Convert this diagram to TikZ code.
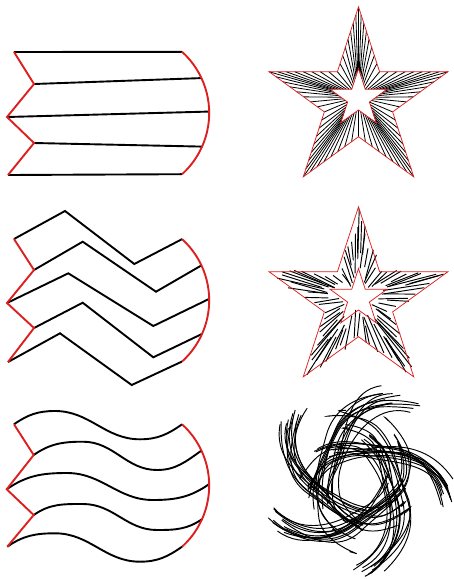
\documentclass[tikz,border=0pt]{standalone}
\usetikzlibrary{calc}
\definecolor{edgered}{RGB}{220,32,32}
\begin{document}
\begin{tikzpicture}[x=1pt,y=1pt,
  stripe/.style={black,line width=1.9pt,line join=miter},
  redge/.style={edgered,line width=1.9pt,line join=miter},
  hatch/.style={black,line width=0.8pt},
  outline/.style={edgered,line width=0.75pt,line join=miter},
  swirl/.style={black,line width=0.95pt}]
\useasboundingbox (0,0) rectangle (454,-579);
\pgfmathsetseed{4242}
% centres of the right-hand arcs of the flags
\coordinate (K1) at (126.6,-113);
\coordinate (K2) at (126.6,-300.3);
\coordinate (K3) at (126.6,-485.5);
\foreach \n/\th in {1/47.8,2/25,3/1,4/-24,5/-47.8}{
  \coordinate (b\n) at ($(K1)+(\th:82.6)$);
  \coordinate (d\n) at ($(K2)+(\th:82.6)$);
  \coordinate (f\n) at ($(K3)+(\th:82.6)$);
}
% ---------------- Flag 1 (straight stripes)
\coordinate (a1) at (14,-52);
\coordinate (a2) at (34,-84);
\coordinate (a3) at (7,-117);
\coordinate (a4) at (34,-143);
\coordinate (a5) at (8,-175);
\foreach \n in {1,...,5}{\draw[stripe] (a\n) -- (b\n);}
\draw[redge] (a1) -- (a2) -- (a3) -- (a4) -- (a5);
\draw[redge] (b1) arc[start angle=47.8,end angle=-47.8,radius=82.6];
% ---------------- Flag 2 (zigzag stripes)
\coordinate (c1) at (14,-239);
\coordinate (c2) at (34,-270);
\coordinate (c3) at (7,-303);
\coordinate (c4) at (34,-328);
\coordinate (c5) at (8,-362);
\coordinate (p1) at (65,-211);
\coordinate (p2) at (82.7,-241.7);
\coordinate (p3) at (68.3,-273.3);
\coordinate (p4) at (82.7,-302.7);
\coordinate (p5) at (60,-333.3);
\coordinate (q1) at (134.3,-264);
\coordinate (q2) at (156,-291.7);
\coordinate (q3) at (153.3,-326);
\coordinate (q4) at (153.3,-357.3);
\coordinate (q5) at (131.7,-385);
\foreach \n in {1,...,5}{\draw[stripe] (c\n) -- (p\n) -- (q\n) -- (d\n);}
\draw[redge] (c1) -- (c2) -- (c3) -- (c4) -- (c5);
\draw[redge] (d1) arc[start angle=47.8,end angle=-47.8,radius=82.6];
% ---------------- Flag 3 (wavy stripes)
\coordinate (e1) at (14,-424.3);
\coordinate (e2) at (33.7,-455);
\coordinate (e3) at (6.7,-489.3);
\coordinate (e4) at (33.7,-515);
\coordinate (e5) at (7.3,-546.7);
\coordinate (g1) at (55,-411);
\coordinate (g2) at (83,-441.7);
\coordinate (g3) at (67,-473);
\coordinate (g4) at (83,-504);
\coordinate (g5) at (55,-533.3);
\coordinate (h1) at (140,-439.3);
\coordinate (h2) at (157,-470);
\coordinate (h3) at (153,-500);
\coordinate (h4) at (157,-530);
\coordinate (h5) at (140,-561.7);
\foreach \n in {1,...,5}{\draw[stripe] (e\n) to[out=35,in=180] (g\n) to[out=0,in=180] (h\n) to[out=0,in=215] (f\n);}
\draw[redge] (e1) -- (e2) -- (e3) -- (e4) -- (e5);
\draw[redge] (f1) arc[start angle=47.8,end angle=-47.8,radius=82.6];
% ---------------- Star vertices
\coordinate (O1) at (358.5,-100.8);
\coordinate (I1) at (358.5,-98.5);
\coordinate (O2) at (358.5,-300.8);
\coordinate (I2) at (358.5,-298.5);
\foreach \i in {0,...,9}{
  \pgfmathsetmacro\ang{90-36*\i}
  \pgfmathsetmacro\ro{ifthenelse(mod(\i,2)==0,94,35.9)}
  \pgfmathsetmacro\ri{ifthenelse(mod(\i,2)==0,30,11.46)}
  \coordinate (so\i) at ($(O1)+(\ang:\ro)$);
  \coordinate (si\i) at ($(I1)+(\ang:\ri)$);
  \coordinate (to\i) at ($(O2)+(\ang:\ro)$);
  \coordinate (ti\i) at ($(I2)+(\ang:\ri)$);
}
% ---------------- Star 1: full hatch lines
\foreach \i in {0,...,9}{
  \pgfmathtruncatemacro\k{mod(\i+1,10)}
  \foreach \j in {0,...,7}{
    \pgfmathsetmacro\tpar{\j/8}
    \draw[hatch] ($(so\i)!\tpar!(so\k)$) -- ($(si\i)!\tpar!(si\k)$);
  }
}
\draw[outline] (so0) \foreach \i in {1,...,9}{-- (so\i)} -- cycle;
\draw[outline] (si0) \foreach \i in {1,...,9}{-- (si\i)} -- cycle;
% ---------------- Star 2: broken hatch lines
\foreach \i in {0,...,9}{
  \pgfmathtruncatemacro\k{mod(\i+1,10)}
  \foreach \j in {0,...,7}{
    \pgfmathsetmacro\tpar{\j/8}
    \pgfmathsetmacro\sa{-0.04+0.28*rnd}
    \pgfmathsetmacro\sb{0.62+0.4*rnd}
    \pgfmathsetmacro\dxa{2.5*rand}
    \pgfmathsetmacro\dya{2.5*rand}
    \pgfmathsetmacro\dxb{2*rand}
    \pgfmathsetmacro\dyb{2*rand}
    \coordinate (P) at ($(to\i)!\tpar!(to\k)+(\dxa,\dya)$);
    \coordinate (Q) at ($(ti\i)!\tpar!(ti\k)+(\dxb,\dyb)$);
    \draw[hatch,line width=0.95pt] ($(P)!\sa!(Q)$) -- ($(P)!\sb!(Q)$);
  }
}
\draw[outline] (to0) \foreach \i in {1,...,9}{-- (to\i)} -- cycle;
\draw[outline] (ti0) \foreach \i in {1,...,9}{-- (ti\i)} -- cycle;
% ---------------- Star 3: swirl of curves
\begin{scope}[shift={(357,-480)}]
\foreach \k in {0,...,4}{
  \foreach \m in {0,...,11}{
    \pgfmathsetmacro\al{122-72*\k+8*rand}
    \pgfmathsetmacro\rho{20+20*rnd}
    \pgfmathsetmacro\angA{\al+80+25*rnd}
    \pgfmathsetmacro\rA{1.3*\rho+6*rand}
    \pgfmathsetmacro\rB{1.3*\rho+4*rand}
    \pgfmathsetmacro\ea{\al-58+8*rand}
    \pgfmathsetmacro\rE{84+14*rnd}
    \pgfmathsetmacro\oA{\angA-120+10*rand}
    \pgfmathsetmacro\iB{\al+130}
    \pgfmathsetmacro\oB{\al-50}
    \pgfmathsetmacro\iE{\ea+118+8*rand}
    \pgfmathsetmacro\angZ{\angA+30+20*rnd}
    \pgfmathsetmacro\rZ{\rA+8+10*rnd}
    \pgfmathsetmacro\oZ{\angZ+80}
    \pgfmathsetmacro\iA{\oA+180}
    \coordinate (sZ) at (\angZ:\rZ);
    \coordinate (sA) at (\angA:\rA);
    \coordinate (sB) at (\al:\rB);
    \coordinate (sE) at (\ea:\rE);
    \ifodd\m
      \draw[swirl] (sZ) to[out=\oZ,in=\iA,looseness=1.6] (sA) to[out=\oA,in=\iB] (sB) to[out=\oB,in=\iE] (sE);
    \else
      \draw[swirl] (sA) to[out=\oA,in=\iB] (sB) to[out=\oB,in=\iE] (sE);
    \fi
  }
}
\end{scope}
\end{tikzpicture}
\end{document}
